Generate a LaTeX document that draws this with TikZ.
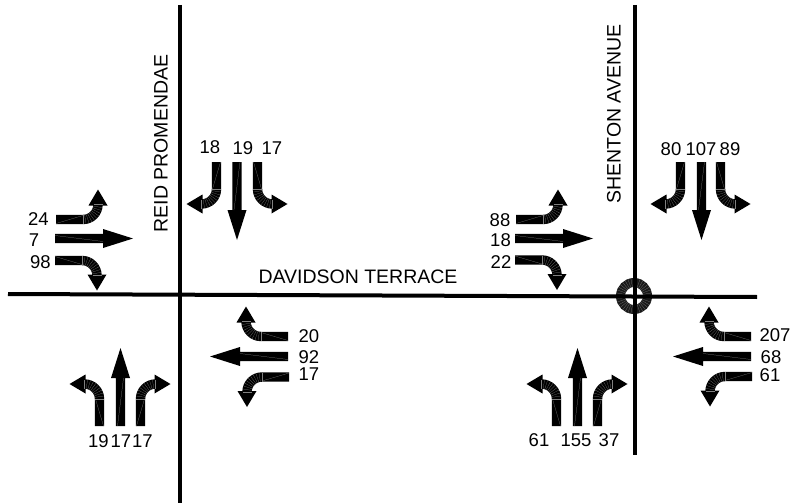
\documentclass[tikz,border=0pt]{standalone}
\usepackage{fontspec}
\setmainfont{Liberation Sans}

\tikzset{
  road/.style={line width=4pt, black},
  count/.style={font=\fontsize{18.5}{20}\selectfont, inner sep=0pt},
  roadname/.style={font=\fontsize{19.5}{21}\selectfont, inner sep=0pt},
  seam/.style={line width=.2pt, black!50},
  pics/thruarrow/.style={code={
    \fill (0,-4.7) -- (48,-4.7) -- (48,-9.5) -- (78,0) -- (48,9.5) -- (48,4.7) -- (0,4.7) -- cycle;
    \draw[seam] (0,-3) -- (48,3);
  }},
  pics/turnarrow/.style={code={
    \draw[line width=9.4pt] (0,0) -- (27,0) arc[start angle=90, end angle=0, radius=15];
    \fill (32.5,-14) -- (51.5,-14) -- (42,-30) -- cycle;
    \draw[seam] (0,4) -- (27,-4);
    \foreach \a in {0,9,...,90}
      \draw[seam] ([shift={(27,-15)}]\a:10.5) -- ([shift={(27,-15)}]\a:19.5);
  }},
}

\begin{document}
\begin{tikzpicture}[x=1pt, y=-1pt]

  \useasboundingbox (0,0) rectangle (793,503);

  % roundabout
  \draw[line width=9pt, black!90] (634,296) circle (13.5);
  \foreach \a in {0,10,...,350}
    \draw[seam] ([shift={(634,296)}]\a:9) -- ([shift={(634,296)}]\a:18);

  % roads
  \coordinate (reidN) at (180,5);
  \coordinate (reidS) at (180,503);
  \coordinate (shentonN) at (635,5);
  \coordinate (shentonS) at (635,455);
  \coordinate (davidsonW) at (8,294);
  \coordinate (davidsonE) at (757,297);
  \draw[road] (reidN) -- (reidS);
  \draw[road] (shentonN) -- (shentonS);
  \draw[road] (davidsonW) -- (davidsonE);

  \node[roadname, rotate=90] (reidname) at (161,143.5) {REID PROMENDAE};
  \node[roadname, rotate=90] (shentonname) at (614,114) {SHENTON AVENUE};
  \node[roadname] (davidsonname) at (358,277) {DAVIDSON TERRACE};

  % Reid, from the west
  \pic (a1) at (56,219.5) {turnarrow};
  \pic (a2) at (55,238.5) {thruarrow};
  \pic[yscale=-1] (a3) at (55,260.5) {turnarrow};
  \node[count] (a1n) at (38.5,219) {24};
  \node[count] (a2n) at (34,240) {7};
  \node[count] (a3n) at (40.5,262) {98};

  % Reid, from the north
  \pic[rotate=-90, yscale=-1] (b1) at (216.5,162) {turnarrow};
  \pic[rotate=-90] (b2) at (237,162) {thruarrow};
  \pic[rotate=-90] (b3) at (257.5,162) {turnarrow};
  \node[count] (b1n) at (210,147) {18};
  \node[count] (b2n) at (243,148.5) {19};
  \node[count] (b3n) at (272,148) {17};

  % Reid, from the east
  \pic[rotate=180, yscale=-1] (c1) at (288,336.5) {turnarrow};
  \pic[rotate=180] (c2) at (288,356.5) {thruarrow};
  \pic[rotate=180] (c3) at (289,377) {turnarrow};
  \node[count] (c1n) at (309,336) {20};
  \node[count] (c2n) at (309,357) {92};
  \node[count] (c3n) at (309,374) {17};

  % Reid, from the south
  \pic[rotate=90] (d1) at (99.5,426) {turnarrow};
  \pic[rotate=90] (d2) at (120.5,426) {thruarrow};
  \pic[rotate=90, yscale=-1] (d3) at (140.5,426) {turnarrow};
  \node[count] (d1n) at (98.5,441) {19};
  \node[count] (d2n) at (121,441) {17};
  \node[count] (d3n) at (142.5,441) {17};

  % Shenton, from the west
  \pic (e1) at (516,219.5) {turnarrow};
  \pic (e2) at (515,238.5) {thruarrow};
  \pic[yscale=-1] (e3) at (515,260) {turnarrow};
  \node[count] (e1n) at (500,220) {88};
  \node[count] (e2n) at (500.5,240.5) {18};
  \node[count] (e3n) at (501,262) {22};

  % Shenton, from the north
  \pic[rotate=-90, yscale=-1] (f1) at (680.5,162) {turnarrow};
  \pic[rotate=-90] (f2) at (701.5,162) {thruarrow};
  \pic[rotate=-90] (f3) at (720.5,162) {turnarrow};
  \node[count] (f1n) at (671,149) {80};
  \node[count] (f2n) at (701,149) {107};
  \node[count] (f3n) at (730,149) {89};

  % Shenton, from the east
  \pic[rotate=180, yscale=-1] (g1) at (751,336.5) {turnarrow};
  \pic[rotate=180] (g2) at (751,356.5) {thruarrow};
  \pic[rotate=180] (g3) at (752,376.5) {turnarrow};
  \node[count] (g1n) at (775,335) {207};
  \node[count] (g2n) at (771,357) {68};
  \node[count] (g3n) at (770,375) {61};

  % Shenton, from the south
  \pic[rotate=90] (h1) at (556.5,426) {turnarrow};
  \pic[rotate=90] (h2) at (577.5,426) {thruarrow};
  \pic[rotate=90, yscale=-1] (h3) at (597.5,426) {turnarrow};
  \node[count] (h1n) at (539,440) {61};
  \node[count] (h2n) at (576,440) {155};
  \node[count] (h3n) at (609,440) {37};

\end{tikzpicture}
\end{document}
